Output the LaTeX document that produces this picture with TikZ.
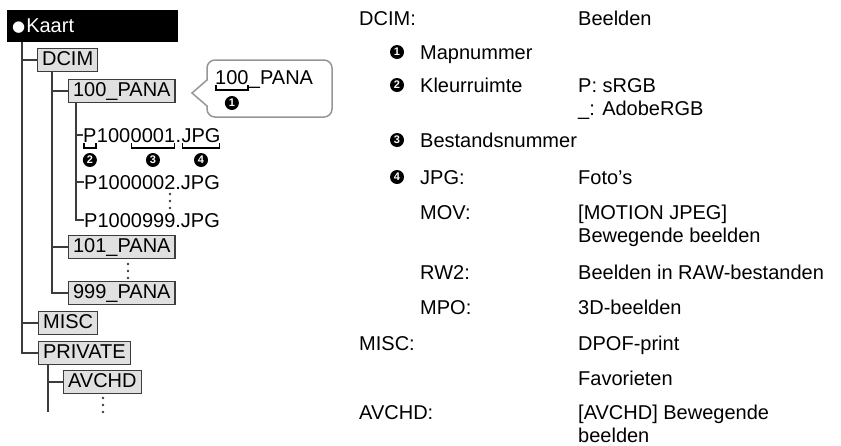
\documentclass[tikz,border=0pt]{standalone}
\usepackage{fontspec}
\setmainfont{Liberation Sans}
\newfontfamily\symfont{DejaVu Sans}
\usepackage{xcolor}
\definecolor{boxgray}{RGB}{224,224,224}
\definecolor{linegray}{RGB}{60,60,60}
\definecolor{callgray}{RGB}{150,150,150}
\usetikzlibrary{positioning,calc}

\begin{document}
\begin{tikzpicture}[x=1pt,y=-1pt,
  every node/.style={font=\fontsize{20}{23}\selectfont},
  folder/.style={draw=linegray,fill=boxgray,line width=1.2pt,anchor=west,
    inner xsep=4.5pt,inner ysep=2.5pt,text height=14pt,text depth=4pt},
  tline/.style={draw=linegray,line width=1.3pt},
  part/.style={anchor=base west,inner sep=0pt},
  brk/.style={draw=black,line width=1.6pt},
  num/.style={circle,fill=black,text=white,inner sep=0pt,minimum size=14pt,
    font=\fontsize{11}{11}\selectfont\bfseries},
  lbl/.style={anchor=base west,inner sep=0pt},
  callout/.style={draw=callgray,line width=1.5pt}]
  \useasboundingbox (0,0) rectangle (841,445);

  % Card
  \node[fill=black,text=white,anchor=north west,minimum height=32pt,
    text width=161pt,inner xsep=5pt,align=left] (kaart) at (7,10)
    {\raisebox{0.5pt}{\symfont\fontsize{15}{15}\selectfont ●}\hspace{1pt}Kaart};

  % Folders
  \node[folder] (dcim) at (37,60) {DCIM};
  \node[folder] (p100) at (68,91) {100\_PANA};
  \node[folder] (p101) at (68,247) {101\_PANA};
  \node[folder] (p999) at (68,293) {999\_PANA};
  \node[folder] (misc) at (38,323) {MISC};
  \node[folder] (pvt) at (38,353) {PRIVATE};
  \node[folder] (avchd) at (63,382) {AVCHD};

  % Files
  \node[part] (fp) at (83,142) {P};
  \node[part] (ffold) at (fp.base east) {100};
  \node[part] (fnum) at (ffold.base east) {0001};
  \node[part] (fdot) at (fnum.base east) {.};
  \node[part] (fext) at (fdot.base east) {JPG};
  \node[part] (f002) at (84,189) {P1000002.JPG};
  \node[part] (f999) at (84,227) {P1000999.JPG};

  % Tree lines
  \coordinate (trunk) at ([xshift=15pt]kaart.south west);
  \draw[tline] (trunk) |- (pvt.west);
  \draw[tline] (trunk |- dcim.west) -- (dcim.west);
  \draw[tline] (trunk |- misc.west) -- (misc.west);

  \coordinate (dcimx) at ([xshift=15pt]dcim.south west);
  \draw[tline] (dcimx) |- (p999.west);
  \draw[tline] (dcimx |- p100.west) -- (p100.west);
  \draw[tline] (dcimx |- p101.west) -- (p101.west);

  \coordinate (panax) at ([xshift=8pt]p100.south west);
  \draw[tline] (panax) |- (f999.west);
  \draw[tline] (panax |- fp.west) -- (fp.west);
  \draw[tline] (panax |- f002.west) -- (f002.west);

  \coordinate (pvtx) at ([xshift=10pt]pvt.south west);
  \coordinate (pvtend) at ([yshift=-47pt]pvtx);
  \draw[tline] (pvtx) -- (pvtend);
  \draw[tline] (pvtx |- avchd.west) -- (avchd.west);

  % Dots
  \foreach \y in {0,7,14} {
    \fill[linegray] (170,194+\y) circle (1.4);
    \fill[linegray] (128,264+\y) circle (1.4);
    \fill[linegray] (103,398+\y) circle (1.4);
  }

  % Brackets under the file name
  \foreach \p/\n in {fp/2,fnum/3,fext/4} {
    \draw[brk] ([xshift=1pt,yshift=-1pt]\p.base west) -- ++(0,5)
      -| ([xshift=-1pt,yshift=-1pt]\p.base east);
    \node[num] (n\n) at ([yshift=-18pt]\p.base) {\n};
  }

  % Callout
  \draw[callout] (207,80) {[rounded corners=8pt] -- (207,60) -- (332,60)
    -- (332,117) -- (207,117)} -- (207,106) -- (192,93) -- cycle;
  \node[part] (c100) at (215,84) {100};
  \node[part] (cpana) at (c100.base east) {\_PANA};
  \draw[brk] ([xshift=1pt,yshift=-1pt]c100.base west) -- ++(0,5)
    -| ([xshift=-1pt,yshift=-1pt]c100.base east);
  \node[num] (n1) at ([yshift=-19pt]c100.base) {1};

  % Legend
  \node[lbl] (ldcim) at (359,25) {DCIM:};
  \node[lbl] (vdcim) at (578,25) {Beelden};
  \node[num] (m1) at (397,52) {1};
  \node[lbl] (lmap) at (420,59) {Mapnummer};
  \node[num] (m2) at (397,85) {2};
  \node[lbl] (lkleur) at (420,92) {Kleurruimte};
  \node[lbl] (vsrgb) at (578,92) {P: sRGB};
  \node[lbl] (vadobe) at (578,115) {\_: AdobeRGB};
  \node[num] (m3) at (397,140) {3};
  \node[lbl] (lbest) at (420,147) {Bestandsnummer};
  \node[num] (m4) at (397,177) {4};
  \node[lbl] (ljpg) at (420,184) {JPG:};
  \node[lbl] (vjpg) at (578,184) {Foto’s};
  \node[lbl] (lmov) at (420,219) {MOV:};
  \node[lbl] (vmov) at (578,219) {[MOTION JPEG]};
  \node[lbl] (vmovb) at (578,242) {Bewegende beelden};
  \node[lbl] (lrw) at (420,279) {RW2:};
  \node[lbl] (vrw) at (578,279) {Beelden in RAW-bestanden};
  \node[lbl] (lmpo) at (420,314) {MPO:};
  \node[lbl] (vmpo) at (578,314) {3D-beelden};
  \node[lbl] (lmisc) at (359,350) {MISC:};
  \node[lbl] (vmisc) at (578,350) {DPOF-print};
  \node[lbl] (vfav) at (578,385) {Favorieten};
  \node[lbl] (lavc) at (359,419) {AVCHD:};
  \node[lbl] (vavc) at (578,419) {[AVCHD] Bewegende};
  \node[lbl] (vavcb) at (578,442) {beelden};
\end{tikzpicture}
\end{document}
